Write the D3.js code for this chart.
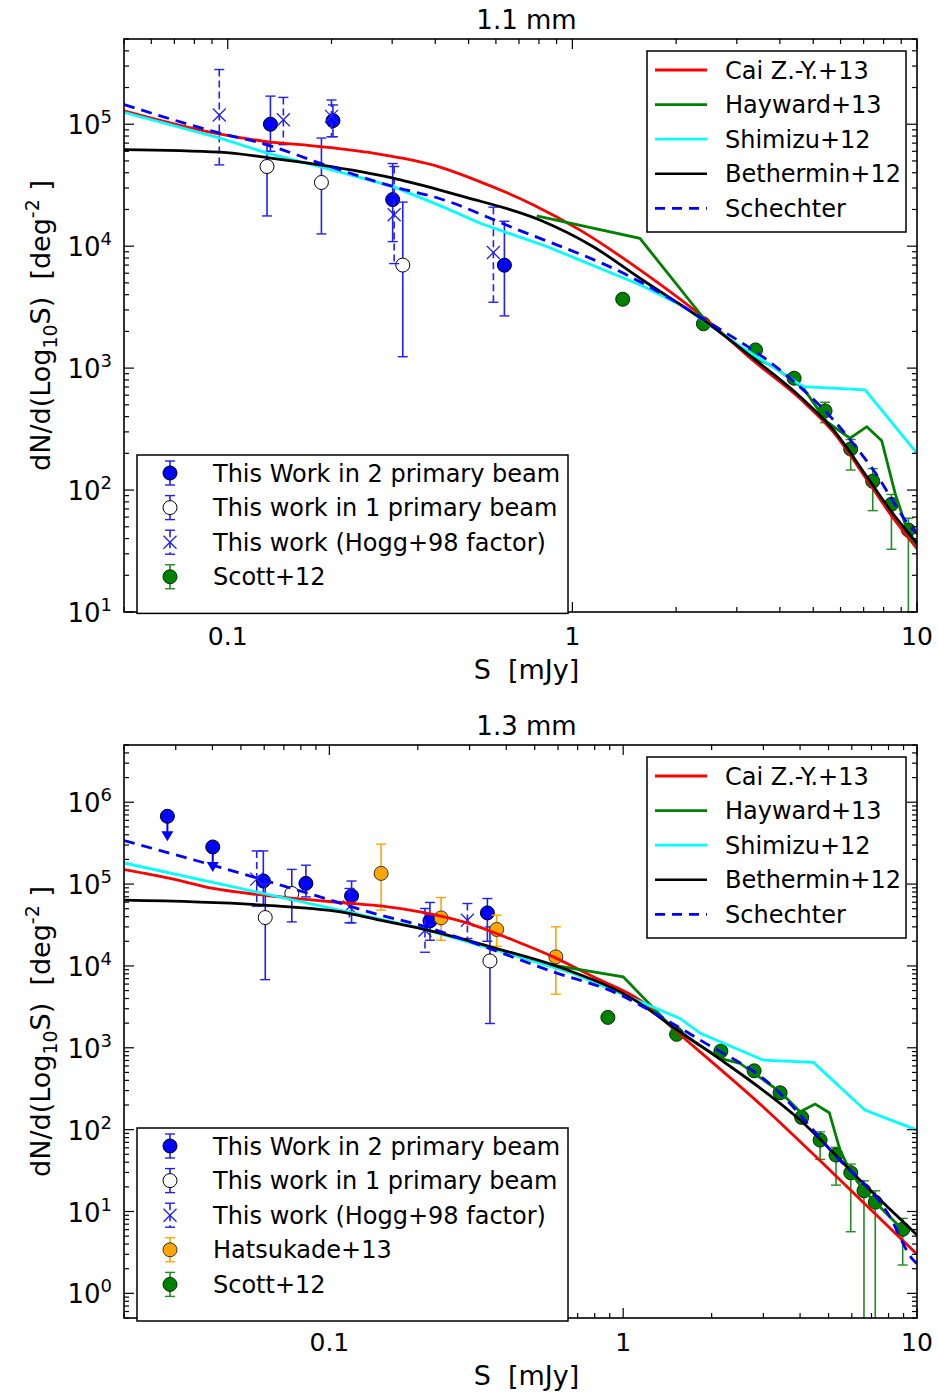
<!DOCTYPE html>
<html>
<head>
<meta charset="utf-8">
<script src="https://cdn.jsdelivr.net/npm/d3@7"></script>
<style>
  body { margin: 0; background: #fff; }
  text { font-family: "DejaVu Sans", sans-serif; fill: #000; white-space: pre; }
</style>
</head>
<body>
<script>
// ---------- 1.1 mm panel data : [S mJy, N, lower, upper] ----------
var tw2_11 = [[0.133, 1.0e5, 6.0e4, 1.7e5], [0.202, 1.07e5, 7.9e4, 1.44e5],
              [0.301, 2.41e4, 1.09e4, 4.76e4], [0.635, 6.98e3, 2.68e3, 1.6e4]];
var tw1_11 = [[0.130, 4.5e4, 1.77e4, 7.0e4], [0.187, 3.33e4, 1.26e4, 7.7e4],
              [0.322, 7.0e3, 1.24e3, 2.3e4]];
var hogg_11 = [[0.0945, 1.19e5, 4.64e4, 2.81e5], [0.145, 1.09e5, 6.8e4, 1.66e5],
               [0.200, 1.16e5, 7.9e4, 1.58e5], [0.304, 1.81e4, 7.2e3, 4.5e4],
               [0.59, 8.87e3, 3.47e3, 2.09e4]];
var scott_11 = [[1.40, 3670, 3400, 3950], [2.40, 2310, 2150, 2480], [3.40, 1410, 1300, 1530],
                [4.40, 826, 760, 900], [5.41, 446, 357, 525], [6.42, 217, 146, 260],
                [7.44, 118, 67.8, 150], [8.43, 76.4, 32.7, 92], [9.44, 47, 1, 58.8]];

// model curves 1.1 mm : [S, N]
var cai_11 = [[0.05, 1.29e5], [0.095, 8.3e4], [0.13, 7.21e4], [0.185, 6.56e4], [0.264, 5.79e4],
              [0.413, 4.45e4], [0.516, 3.55e4], [0.771, 2.18e4], [1.05, 1.36e4], [1.57, 6.39e3],
              [2.51, 2.35e3], [3.35, 1.15e3], [4.58, 560], [5.72, 298], [7.15, 122],
              [8.35, 64], [10, 33]];
var hayward_11 = [[0.788, 1.77e4], [1.57, 1.16e4], [2.45, 2.4e3], [3.35, 1.23e3], [3.83, 1.03e3],
                  [4.68, 684], [5.47, 364], [6.39, 266], [7.15, 331], [7.9, 254], [8.64, 94],
                  [9.44, 44], [10, 35]];
var shimizu_11 = [[0.05, 1.25e5], [0.095, 7.69e4], [0.13, 5.79e4], [0.185, 4.5e4], [0.302, 3.08e4],
                  [0.413, 2.15e4], [0.54, 1.54e4], [0.843, 9.93e3], [1.57, 4.82e3], [2.10, 3.2e3],
                  [2.93, 1.65e3], [4.68, 705], [7.07, 662], [10, 200]];
var bethermin_11 = [[0.05, 6.2e4], [0.095, 5.9e4], [0.13, 5.33e4], [0.185, 4.64e4], [0.302, 3.61e4],
                    [0.413, 2.88e4], [0.483, 2.55e4], [0.805, 1.64e4], [1.15, 9.9e3], [1.57, 5.46e3],
                    [2.51, 2.26e3], [3.35, 1.2e3], [4.58, 583], [5.72, 311], [7.15, 129],
                    [8.35, 68.7], [10, 36.6]];
var schechter_11 = [[0.05, 1.45e5], [0.095, 8.45e4], [0.13, 6.78e4], [0.185, 4.8e4], [0.302, 3.08e4],
                    [0.413, 2.45e4], [0.675, 1.41e4], [1.47, 5.63e3], [2.51, 2.34e3], [4.0, 967],
                    [5.72, 376], [7.47, 146], [9.76, 47], [10, 44]];

// ---------- 1.3 mm panel data ----------
var ulim_13 = [[0.0281, 6.73e5], [0.0401, 2.84e5]];
var tw2_13 = [[0.0596, 1.09e5, 5.4e4, 2.54e5], [0.0832, 1.02e5, 6.97e4, 1.7e5],
              [0.119, 7.17e4, 3.36e4, 1.09e5], [0.220, 3.55e4, 2.06e4, 5.96e4],
              [0.345, 4.44e4, 2.0e4, 6.66e4]];
var tw1_13 = [[0.0605, 3.9e4, 6.8e3, 1.0e5], [0.0745, 7.67e4, 3.45e4, 1.51e5],
              [0.352, 1.15e4, 1.98e3, 3.0e4]];
var hogg_13 = [[0.0566, 1.15e5, 5.36e4, 2.54e5], [0.117, 5.26e4, 3.36e4, 8.83e4],
               [0.2115, 2.73e4, 1.47e4, 5.03e4], [0.295, 3.62e4, 2.16e4, 5.79e4]];
var hatsu_13 = [[0.150, 1.35e5, 4.8e4, 3.07e5], [0.240, 3.86e4, 2.06e4, 6.85e4],
                [0.371, 2.79e4, 1.74e4, 4.17e4], [0.59, 1.29e4, 4.52e3, 3.0e4]];
var scott_13 = [[0.887, 2350, 2200, 2500], [1.52, 1460, 1360, 1560], [2.15, 910, 850, 975],
                [2.79, 523, 485, 565], [3.42, 282, 260, 305], [4.05, 141, 128, 155],
                [4.68, 74.5, 43.3, 94], [5.3, 48.9, 21, 60.7], [5.95, 29.7, 5.66, 37.9],
                [6.6, 17.9, 0.01, 23.7], [7.21, 13, 0.01, 17.9], [8.94, 6.05, 2.22, 8.24]];

var cai_13 = [[0.02, 1.5e5], [0.0287, 1.17e5], [0.0402, 8.83e4], [0.0596, 7.31e4], [0.1206, 5.78e4],
              [0.149, 5.41e4], [0.2035, 4.57e4], [0.286, 3.45e4], [0.423, 2.06e4], [0.578, 1.29e4],
              [0.791, 7.35e3], [1.14, 3.82e3], [1.52, 1.57e3], [3.08, 173], [5.19, 29.2], [10, 3.0]];
var hayward_13 = [[0.55, 1.05e4], [1.0, 7.35e3], [1.48, 1.72e3], [2.14, 741], [2.5, 644],
                  [3.42, 290], [4.0, 165], [4.5, 205], [5.03, 161], [5.47, 56.3], [5.95, 30],
                  [6.6, 18], [7.21, 13], [8.94, 6]];
var shimizu_13 = [[0.02, 1.81e5], [0.0596, 7.67e4], [0.1175, 4.5e4], [0.2035, 2.9e4], [0.371, 1.56e4],
                  [0.676, 8.09e3], [1.56, 2.28e3], [1.83, 1.5e3], [3.0, 706], [4.44, 662],
                  [6.65, 173], [10, 98.7]];
var bethermin_13 = [[0.02, 6.35e4], [0.0596, 5.52e4], [0.1175, 4.37e4], [0.149, 3.62e4],
                    [0.2035, 2.87e4], [0.371, 1.63e4], [0.625, 9.3e3], [1.05, 4.19e3], [1.56, 1.57e3],
                    [2.08, 775], [4.0, 131], [6.74, 20], [10, 5.16]];
var schechter_13 = [[0.02, 3.4e5], [0.0425, 1.6e5], [0.0929, 6.97e4], [0.149, 4.17e4], [0.2035, 3.15e4],
                    [0.326, 1.79e4], [0.578, 8.46e3], [0.926, 4.82e3], [1.44, 2.07e3], [1.83, 1.24e3],
                    [3.24, 334], [5.19, 51.3], [8.09, 8.6], [9.6, 2.68], [10, 2.3]];

// legend labels
var modelNames = ["Cai Z.-Y.+13", "Hayward+13", "Shimizu+12", "Bethermin+12", "Schechter"];
var pointNames_11 = ["This Work in 2 primary beam", "This work in 1 primary beam", "This work (Hogg+98 factor)", "Scott+12"];
var pointNames_13 = ["This Work in 2 primary beam", "This work in 1 primary beam", "This work (Hogg+98 factor)", "Hatsukade+13", "Scott+12"];

var W = 938, H = 1396;
var svg = d3.select("body").append("svg").attr("width", W).attr("height", H);

var modelStyle = [
  {color: "#ff0000", dash: null, curve: d3.curveMonotoneX},
  {color: "#008000", dash: null, curve: d3.curveLinear},
  {color: "#00ffff", dash: null, curve: d3.curveLinear},
  {color: "#000000", dash: null, curve: d3.curveMonotoneX},
  {color: "#0000ff", dash: "11,7", curve: d3.curveMonotoneX}
];

var panels = [
  {id: "p11", title: "1.1 mm", top: 39, bottom: 612, xDom: [0.05, 10], yDom: [10, 5e5],
   models: [cai_11, hayward_11, shimizu_11, bethermin_11, schechter_11],
   sets: [{d: tw2_11, kind: "filled"}, {d: tw1_11, kind: "open"}, {d: hogg_11, kind: "x"}, {d: scott_11, kind: "scott"}],
   ulim: [], names: pointNames_11, legKinds: ["filled", "open", "x", "scott"],
   legTR: 51, legBL: 455},
  {id: "p13", title: "1.3 mm", top: 745, bottom: 1318, xDom: [0.02, 10], yDom: [0.5, 5e6],
   models: [cai_13, hayward_13, shimizu_13, bethermin_13, schechter_13],
   sets: [{d: tw2_13, kind: "filled"}, {d: tw1_13, kind: "open"}, {d: hogg_13, kind: "x"}, {d: hatsu_13, kind: "hatsu"}, {d: scott_13, kind: "scott"}],
   ulim: ulim_13, names: pointNames_13, legKinds: ["filled", "open", "x", "hatsu", "scott"],
   legTR: 757, legBL: 1128}
];

var left = 124, right = 917;

var kindStyle = {
  filled: {fill: "#0000ff", bar: "#2020ff", edge: "#000"},
  open:   {fill: "#ffffff", bar: "#2020ff", edge: "#000"},
  x:      {fill: "none", bar: "#2020ff", edge: "#2020ff"},
  hatsu:  {fill: "#ffa500", bar: "#ffa500", edge: "#333"},
  scott:  {fill: "#008000", bar: "#228b22", edge: "#003000"}
};

function drawMarker(g, kind, cx, cy) {
  var st = kindStyle[kind];
  if (kind === "x") {
    var s = 6.5;
    g.append("path").attr("d", "M" + (cx - s) + "," + (cy - s) + "L" + (cx + s) + "," + (cy + s) +
      "M" + (cx - s) + "," + (cy + s) + "L" + (cx + s) + "," + (cy - s))
      .attr("stroke", st.edge).attr("stroke-width", 1.3).attr("fill", "none");
  } else {
    g.append("circle").attr("cx", cx).attr("cy", cy).attr("r", 7)
      .attr("fill", st.fill).attr("stroke", st.edge).attr("stroke-width", 1);
  }
}

function drawBar(g, kind, cx, yHi, yLo) {
  var st = kindStyle[kind];
  var dash = kind === "x" ? "7,4" : null;
  g.append("line").attr("x1", cx).attr("x2", cx).attr("y1", yHi).attr("y2", yLo)
    .attr("stroke", st.bar).attr("stroke-width", 1.6).attr("stroke-dasharray", dash);
  [yHi, yLo].forEach(function(yy) {
    g.append("line").attr("x1", cx - 5).attr("x2", cx + 5).attr("y1", yy).attr("y2", yy)
      .attr("stroke", st.bar).attr("stroke-width", 1.4);
  });
}

panels.forEach(function(p) {
  var x = d3.scaleLog().domain(p.xDom).range([left, right]);
  var y = d3.scaleLog().domain(p.yDom).range([p.bottom, p.top]);
  var g = svg.append("g");

  g.append("clipPath").attr("id", "clip-" + p.id).append("rect")
    .attr("x", left).attr("y", p.top).attr("width", right - left).attr("height", p.bottom - p.top);
  var plot = g.append("g").attr("clip-path", "url(#clip-" + p.id + ")");

  // data points with error bars
  p.sets.forEach(function(s) {
    s.d.forEach(function(d) {
      drawBar(plot, s.kind, x(d[0]), y(d[3]), y(Math.max(d[2], 1e-3)));
    });
    s.d.forEach(function(d) { drawMarker(plot, s.kind, x(d[0]), y(d[1])); });
  });

  // upper limits
  p.ulim.forEach(function(d) {
    var cx = x(d[0]), cy = y(d[1]);
    plot.append("line").attr("x1", cx).attr("x2", cx).attr("y1", cy).attr("y2", cy + 16)
      .attr("stroke", "#0000ff").attr("stroke-width", 2);
    plot.append("path").attr("d", "M" + (cx - 6) + "," + (cy + 15) + "L" + (cx + 6) + "," + (cy + 15) + "L" + cx + "," + (cy + 25) + "Z")
      .attr("fill", "#0000ff");
    drawMarker(plot, "filled", cx, cy);
  });

  // model curves
  p.models.forEach(function(m, i) {
    var st = modelStyle[i];
    var line = d3.line().x(function(d) { return x(d[0]); }).y(function(d) { return y(d[1]); }).curve(st.curve);
    plot.append("path").datum(m).attr("d", line).attr("fill", "none")
      .attr("stroke", st.color).attr("stroke-width", 2.8).attr("stroke-dasharray", st.dash);
  });

  // frame
  g.append("rect").attr("x", left).attr("y", p.top).attr("width", right - left).attr("height", p.bottom - p.top)
    .attr("fill", "none").attr("stroke", "#000").attr("stroke-width", 1.6);

  // ticks (inward, all four sides)
  var xt = x.ticks(), yt = y.ticks();
  function isMajor(v) { return Math.abs(Math.log10(v) - Math.round(Math.log10(v))) < 1e-6; }
  xt.forEach(function(v) {
    var len = isMajor(v) ? 10 : 5, px = x(v);
    g.append("line").attr("x1", px).attr("x2", px).attr("y1", p.bottom).attr("y2", p.bottom - len).attr("stroke", "#000").attr("stroke-width", 1.2);
    g.append("line").attr("x1", px).attr("x2", px).attr("y1", p.top).attr("y2", p.top + len).attr("stroke", "#000").attr("stroke-width", 1.2);
    if (isMajor(v)) {
      g.append("text").attr("x", px).attr("y", p.bottom + 33).attr("text-anchor", "middle")
        .attr("font-size", 25).text(d3.format("~g")(v));
    }
  });
  yt.forEach(function(v) {
    var len = isMajor(v) ? 10 : 5, py = y(v);
    g.append("line").attr("x1", left).attr("x2", left + len).attr("y1", py).attr("y2", py).attr("stroke", "#000").attr("stroke-width", 1.2);
    g.append("line").attr("x1", right).attr("x2", right - len).attr("y1", py).attr("y2", py).attr("stroke", "#000").attr("stroke-width", 1.2);
    if (isMajor(v)) {
      var t = g.append("text").attr("x", 112).attr("y", py + 10).attr("text-anchor", "end").attr("font-size", 26);
      t.append("tspan").text("10");
      t.append("tspan").attr("dy", -11).attr("font-size", 18).text(Math.round(Math.log10(v)));
    }
  });

  // titles and axis labels
  var cx = (left + right) / 2, cy = (p.top + p.bottom) / 2;
  g.append("text").attr("x", cx + 6).attr("y", p.top - 10).attr("text-anchor", "middle").attr("font-size", 26).text(p.title);
  g.append("text").attr("x", cx + 6).attr("y", p.bottom + 67).attr("text-anchor", "middle").attr("font-size", 27).text("S  [mJy]");
  var yl = g.append("text").attr("transform", "translate(50," + cy + ") rotate(-90)")
    .attr("text-anchor", "middle").attr("font-size", 27);
  yl.append("tspan").text("dN/d(Log");
  yl.append("tspan").attr("dy", 7).attr("font-size", 19).text("10");
  yl.append("tspan").attr("dy", -7).text("S)  [deg");
  yl.append("tspan").attr("dy", -11).attr("font-size", 19).text("-2");
  yl.append("tspan").attr("dy", 11).text(" ]");

  // model legend (top right)
  var lg = g.append("g");
  lg.append("rect").attr("x", 647).attr("y", p.legTR).attr("width", 259).attr("height", 181)
    .attr("fill", "#fff").attr("stroke", "#000").attr("stroke-width", 1.5);
  modelNames.forEach(function(name, i) {
    var st = modelStyle[i], ry = p.legTR + 19 + i * 34.6;
    lg.append("line").attr("x1", 655).attr("x2", 707).attr("y1", ry).attr("y2", ry)
      .attr("stroke", st.color).attr("stroke-width", i === 3 ? 2.6 : 2.8).attr("stroke-dasharray", st.dash ? "10,7" : null);
    lg.append("text").attr("x", 725).attr("y", ry + 8.5).attr("font-size", 24).text(name);
  });

  // data legend (bottom left)
  var n = p.names.length, bh = 12 + n * 34.6 + 8;
  var lb = g.append("g");
  lb.append("rect").attr("x", 137).attr("y", p.legBL).attr("width", 431).attr("height", bh)
    .attr("fill", "#fff").attr("stroke", "#000").attr("stroke-width", 1.5);
  p.names.forEach(function(name, i) {
    var ry = p.legBL + 18 + i * 34.6, kind = p.legKinds[i];
    drawBar(lb, kind, 170, ry - 12, ry + 12);
    drawMarker(lb, kind, 170, ry);
    lb.append("text").attr("x", 213).attr("y", ry + 8.5).attr("font-size", 24).text(name);
  });
});
</script>
</body>
</html>
